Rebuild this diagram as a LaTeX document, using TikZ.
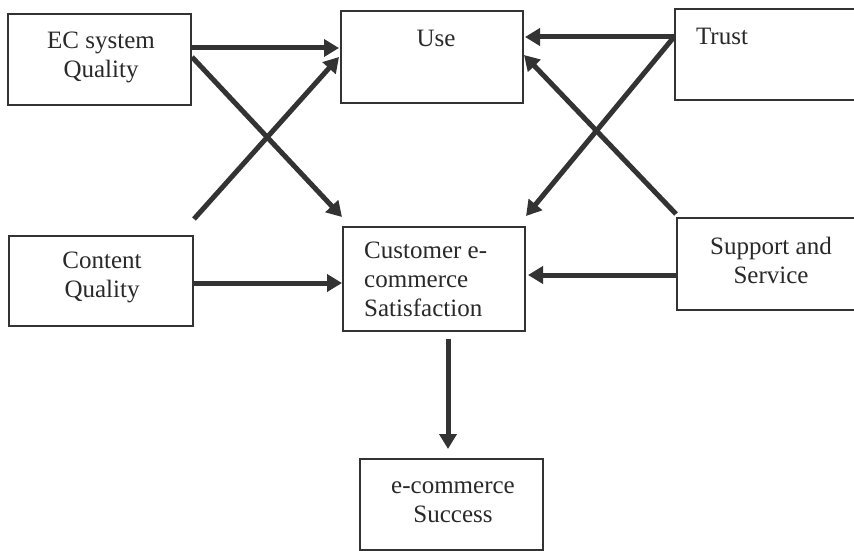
\documentclass[tikz,border=0pt]{standalone}
\usepackage{fontspec}
\setmainfont{Liberation Serif}
\usetikzlibrary{arrows.meta}
\definecolor{ink}{HTML}{333333}
\begin{document}
\begin{tikzpicture}[x=1pt,y=-1pt,
  box/.style={draw=ink,line width=2pt,minimum width=#1,inner sep=0pt},
  lbl/.style={font=\fontsize{25}{29}\selectfont,text=ink!80!black,align=center,inner sep=0pt},
  arr/.style={draw=ink,line width=5pt,-{Triangle[length=15pt,width=17pt]}}]
\clip (0,0) rectangle (854,551);
\fill[white] (0,0) rectangle (854,551);
% boxes
\node[box=183pt,minimum height=91pt] (ec) at (99.5,59.5) {};
\node[box=182pt,minimum height=92pt] (use) at (432,57) {};
\node[box=185pt,minimum height=91pt] (trust) at (767.5,54.5) {};
\node[box=184pt,minimum height=90pt] (content) at (101,281) {};
\node[box=182pt,minimum height=104pt] (cust) at (434,279) {};
\node[box=183pt,minimum height=92pt] (support) at (768.5,264) {};
\node[box=183pt,minimum height=91pt] (success) at (451.5,504.5) {};
% texts
\node[lbl] (ect) at (101,57) {EC system\\Quality};
\node[lbl] (uset) at (436,38) {Use};
\node[lbl] (trustt) at (722,36) {Trust};
\node[lbl] (contentt) at (102,277) {Content\\Quality};
\node[lbl,align=left,anchor=west] (custt) at (364,279) {Customer e-\\commerce\\Satisfaction};
\node[lbl] (supportt) at (771,260) {Support and\\Service};
\node[lbl] (successt) at (453,502) {e-commerce\\Success};
% connectors
\draw[arr] ([yshift=11.5pt]ec.east) -- ([yshift=9pt,xshift=-1pt]use.west);
\draw[arr] ([yshift=2.5pt]ec.east) -- ([yshift=9pt]cust.north west);
\draw[arr] ([yshift=16pt]content.north east) -- ([xshift=-1pt]use.west);
\draw[arr] ([yshift=-2pt]content.east) -- ([yshift=-4pt]cust.west);
\draw[arr] ([yshift=17.5pt]trust.west) -- ([yshift=20pt,xshift=1pt]use.east);
\draw[arr] ([yshift=17.5pt]trust.west) -- ([yshift=10pt]cust.north east);
\draw[arr] ([yshift=3pt]support.north west) -- ([yshift=2pt]use.east);
\draw[arr] ([yshift=-11pt]support.west) -- ([yshift=4pt,xshift=2pt]cust.east);
\draw[arr] ([xshift=14pt,yshift=-7pt]cust.south) -- ([xshift=-3.5pt,yshift=9pt]success.north);
\end{tikzpicture}
\end{document}
